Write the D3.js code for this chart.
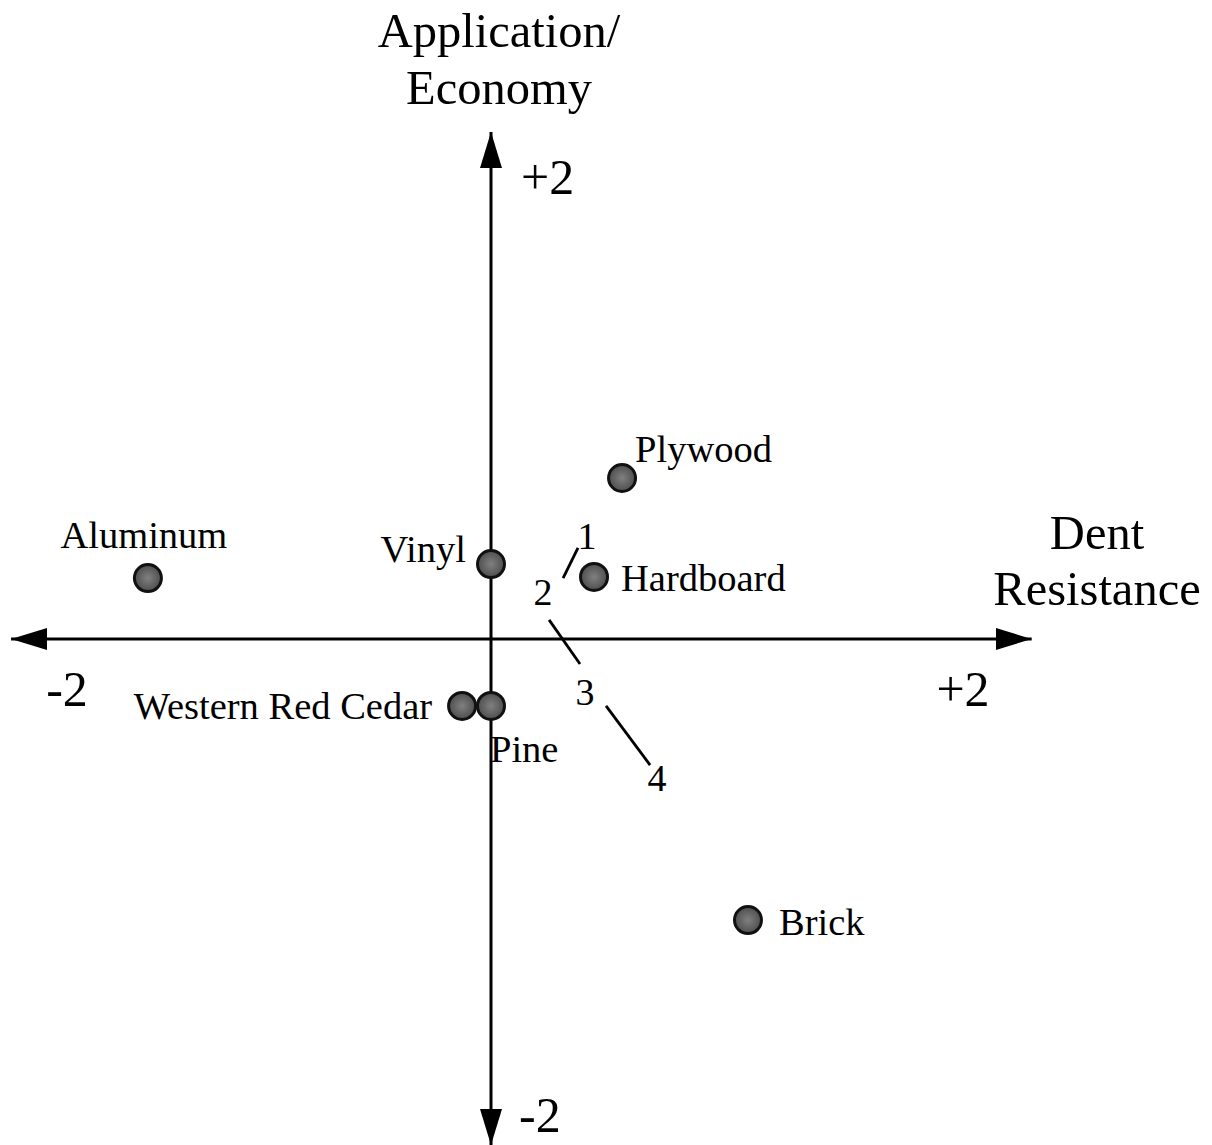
<!DOCTYPE html>
<html>
<head>
<meta charset="utf-8">
<script src="https://cdn.jsdelivr.net/npm/d3@7"></script>
<style>
  html, body { margin: 0; padding: 0; background: #fff; }
  svg { display: block; }
  text { font-family: "Liberation Serif", "Times New Roman", serif; fill: #000; }
</style>
</head>
<body>
<svg id="chart" width="1212" height="1145"></svg>
<script>
// ---- data ----
const materials = ["Plywood", "Aluminum", "Vinyl", "Hardboard", "Western Red Cedar", "Pine", "Brick"];
const dentResistance = [0.589, -1.542, 0.0, 0.463, -0.13, 0.0, 1.155];
const applicationEconomy = [0.70, 0.265, 0.326, 0.27, -0.291, -0.291, -1.222];

const stepLabels = ["1", "2", "3", "4"];
const stepX = [0.431, 0.234, 0.422, 0.746];
const stepY = [0.448, 0.204, -0.23, -0.604];
// connecting strokes between the numbered steps (start x, start y, end x, end y)
const stepSegX1 = [0.391, 0.261, 0.517];
const stepSegY1 = [0.396, 0.083, -0.291];
const stepSegX2 = [0.324, 0.40, 0.715];
const stepSegY2 = [0.265, -0.109, -0.548];

const xTickLabels = ["-2", "+2"];
const yTickLabels = ["+2", "-2"];
const xTitle = ["Dent", "Resistance"];
const yTitle = ["Application/", "Economy"];

// ---- layout ----
const svg = d3.select("#chart");
const x = d3.scaleLinear().domain([-2, 2]).range([46, 936]);
const y = d3.scaleLinear().domain([-2, 2]).range([1099, 179]);

const xExtent = [-2.157, 2.43];
const yExtent = [-2.2, 2.204];

// arrow markers
const defs = svg.append("defs");
defs.append("marker")
  .attr("id", "arrow")
  .attr("viewBox", "0 0 36 22")
  .attr("refX", 36).attr("refY", 11)
  .attr("markerWidth", 36).attr("markerHeight", 22)
  .attr("markerUnits", "userSpaceOnUse")
  .attr("orient", "auto-start-reverse")
  .append("path").attr("d", "M0,0 L36,11 L0,22 Z").attr("fill", "#000");

// axes
svg.append("line")
  .attr("x1", x(xExtent[0])).attr("x2", x(xExtent[1]))
  .attr("y1", y(0)).attr("y2", y(0))
  .attr("stroke", "#000").attr("stroke-width", 3)
  .attr("marker-start", "url(#arrow)").attr("marker-end", "url(#arrow)");
svg.append("line")
  .attr("x1", x(0)).attr("x2", x(0))
  .attr("y1", y(yExtent[0])).attr("y2", y(yExtent[1]))
  .attr("stroke", "#000").attr("stroke-width", 3)
  .attr("marker-start", "url(#arrow)").attr("marker-end", "url(#arrow)");

// tick labels
const tickFont = 50;
svg.append("text").text(xTickLabels[0])
  .attr("x", x(-2) + 21).attr("y", y(0) + 67)
  .attr("text-anchor", "middle").attr("font-size", tickFont);
svg.append("text").text(xTickLabels[1])
  .attr("x", x(2) + 27).attr("y", y(0) + 67)
  .attr("text-anchor", "middle").attr("font-size", tickFont);
svg.append("text").text(yTickLabels[0])
  .attr("x", x(0) + 30).attr("y", y(2) + 15)
  .attr("text-anchor", "start").attr("font-size", tickFont);
svg.append("text").text(yTickLabels[1])
  .attr("x", x(0) + 28).attr("y", y(-2) + 33)
  .attr("text-anchor", "start").attr("font-size", tickFont);

// axis titles
const titleFont = 48.5;
svg.append("text")
  .attr("x", x(0) + 8).attr("y", 47)
  .attr("text-anchor", "middle").attr("font-size", titleFont)
  .selectAll("tspan").data(yTitle).join("tspan")
  .attr("x", x(0) + 8).attr("dy", (d, i) => i === 0 ? 0 : 57)
  .text(d => d);
svg.append("text")
  .attr("x", 1097).attr("y", y(0) - 90)
  .attr("text-anchor", "middle").attr("font-size", titleFont)
  .selectAll("tspan").data(xTitle).join("tspan")
  .attr("x", 1097).attr("dy", (d, i) => i === 0 ? 0 : 56)
  .text(d => d);

// step segments
svg.append("g").selectAll("line").data(stepSegX1).join("line")
  .attr("x1", (d, i) => x(stepSegX1[i])).attr("y1", (d, i) => y(stepSegY1[i]))
  .attr("x2", (d, i) => x(stepSegX2[i])).attr("y2", (d, i) => y(stepSegY2[i]))
  .attr("stroke", "#000").attr("stroke-width", 2.8);

svg.append("g").selectAll("text").data(stepLabels).join("text")
  .attr("x", (d, i) => x(stepX[i])).attr("y", (d, i) => y(stepY[i]))
  .attr("text-anchor", "middle").attr("dominant-baseline", "central")
  .attr("font-size", 38)
  .text(d => d);

// label placement (style only)
const labelPlacement = {
  "Plywood":           { anchor: "start", dx: 13,  dy: -16 },
  "Aluminum":          { anchor: "middle", dx: -4, dy: -30 },
  "Vinyl":             { anchor: "end",   dx: -25, dy: -2 },
  "Hardboard":         { anchor: "start", dx: 27,  dy: 14 },
  "Western Red Cedar": { anchor: "end",   dx: -30, dy: 13 },
  "Pine":              { anchor: "start", dx: -1,  dy: 56 },
  "Brick":             { anchor: "start", dx: 31,  dy: 15 }
};

const pts = materials.map((m, i) => ({ name: m, dx: dentResistance[i], ae: applicationEconomy[i] }));

const gradient = defs.append("radialGradient").attr("id", "dotfill");
gradient.append("stop").attr("offset", "0%").attr("stop-color", "#808080");
gradient.append("stop").attr("offset", "100%").attr("stop-color", "#4e4e4e");

svg.append("g").selectAll("circle").data(pts).join("circle")
  .attr("cx", d => x(d.dx)).attr("cy", d => y(d.ae))
  .attr("r", 13.5)
  .attr("fill", "url(#dotfill)")
  .attr("stroke", "#111").attr("stroke-width", 3);

svg.append("g").selectAll("text").data(pts).join("text")
  .attr("x", d => x(d.dx) + labelPlacement[d.name].dx)
  .attr("y", d => y(d.ae) + labelPlacement[d.name].dy)
  .attr("text-anchor", d => labelPlacement[d.name].anchor)
  .attr("font-size", 38.5)
  .text(d => d.name);
</script>
</body>
</html>
